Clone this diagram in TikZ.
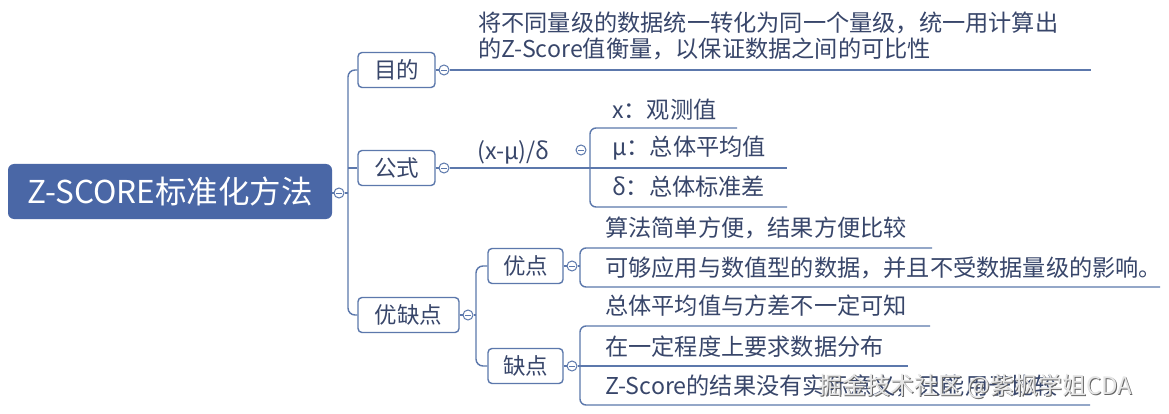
\documentclass[tikz,border=0pt]{standalone}
\usepackage{fontspec}
\setmainfont{Noto Sans CJK SC}
\definecolor{mainblue}{RGB}{74,103,166}
\definecolor{linec}{RGB}{92,120,172}
\definecolor{txt}{RGB}{56,70,106}
\begin{document}
\begin{tikzpicture}[x=1pt,y=-1pt,
  conn/.style={draw=linec, line width=1.4pt},
  topicbox/.style={draw=linec, line width=1.4pt, rounded corners=4pt, fill=white, text=txt,
    font=\fontsize{22.5}{26}\selectfont, inner sep=0pt, minimum height=35pt},
  coll/.style={circle, draw=linec, line width=1pt, fill=white, minimum size=10pt, inner sep=0pt,
    path picture={\draw[linec, line width=0.8pt] ([xshift=-2.6pt]path picture bounding box.center) -- ([xshift=2.6pt]path picture bounding box.center);}},
  item/.style={anchor=west, text=txt, font=\fontsize{23.2}{27}\selectfont, inner sep=0pt},
  wm/.style={anchor=west, font=\fontsize{24}{28}\selectfont, inner sep=0pt}
]
\useasboundingbox (0,0) rectangle (1169,414);
\fill[white] (0,0) rectangle (1169,414);

% main topic
\node[fill=mainblue, rounded corners=6pt, minimum width=324pt, minimum height=55pt, inner sep=0pt,
  text=white, font=\fontsize{31.5}{34}\selectfont] (main) at (170,191.5) {Z-SCORE标准化方法};
\node[coll] (c0) at (339,193) {};
\draw[conn] (main.east |- c0) -- (c0.west);

% level-1 topics
\node[topicbox, minimum width=77pt] (mudi) at (396.5,70) {目的};
\node[topicbox, minimum width=77pt] (gongshi) at (396.5,168) {公式};
\node[topicbox, minimum width=101pt] (ycd) at (408.5,315) {优缺点};

\coordinate (tk) at (348,193);
\draw[conn, rounded corners=7pt] (mudi.west) -- (mudi.west -| tk) -- (ycd.west -| tk) -- (ycd.west);
\draw[conn] (c0.east) -- (tk);
\draw[conn] (gongshi.west -| tk) -- (gongshi.west);

% 目的
\node[coll] (c1) at (444,70) {};
\draw[conn] (mudi.east) -- (c1.west);
\coordinate (e1) at (1091,70);
\draw[conn] (c1.east) -- (e1);
\node[item] (t1a) at (478,22.5) {将不同量级的数据统一转化为同一个量级，统一用计算出};
\node[item] (t1b) at (478,49) {的Z-Score值衡量，以保证数据之间的可比性};

% 公式
\node[coll] (c2) at (444,168) {};
\draw[conn] (gongshi.east) -- (c2.west);
\coordinate (e2) at (787,168);
\draw[conn] (c2.east) -- (e2);
\node[item] (f) at (477,152) {(x-μ)/δ};
\node[coll] (c3) at (581,150) {};
\coordinate (b1) at (737,128);
\coordinate (b2) at (787,207);
\draw[conn, rounded corners=6pt] (b1) -- (590,128) -- (590,207) -- (b2);
\node[item] (fx) at (612,110) {x：观测值};
\node[item] (fmu) at (612,148) {μ：总体平均值};
\node[item] (fdel) at (612,187) {δ：总体标准差};

% 优缺点
\node[coll] (c4) at (468,315) {};
\draw[conn] (ycd.east) -- (c4.west);
\node[topicbox, minimum width=75pt] (yd) at (525.5,266) {优点};
\node[topicbox, minimum width=75pt] (qd) at (525.5,366) {缺点};
\coordinate (tk2) at (476,315);
\draw[conn, rounded corners=7pt] (yd.west) -- (yd.west -| tk2) -- (qd.west -| tk2) -- (qd.west);
\draw[conn] (c4.east) -- (tk2);

% 优点
\node[coll] (c5) at (572,266) {};
\draw[conn] (yd.east) -- (c5.west);
\coordinate (m5) at (580,266);
\draw[conn] (c5.east) -- (m5);
\coordinate (u1) at (932,248);
\coordinate (u2) at (1160,287);
\draw[conn, rounded corners=6pt] (u1) -- (580,248) -- (580,287) -- (u2);
\node[item] (y1) at (605,228) {算法简单方便，结果方便比较};
\node[item] (y2) at (605,268) {可够应用与数值型的数据，并且不受数据量级的影响。};

% 缺点
\node[coll] (c6) at (572,366) {};
\draw[conn] (qd.east) -- (c6.west);
\coordinate (q0) at (908,366);
\draw[conn] (c6.east) -- (q0);
\coordinate (q1) at (930,326);
\coordinate (q2) at (1090,405);
\draw[conn, rounded corners=6pt] (q1) -- (580,326) -- (580,405) -- (q2);
\node[item] (n1) at (605,306) {总体平均值与方差不一定可知};
\node[item] (n2) at (605,347) {在一定程度上要求数据分布};
\node[item] (n3) at (605,386) {Z-Score的结果没有实际意义，只能用于比较};

% watermark
\node[wm, text=black!60] (wms) at (819,387) {掘金技术社区 @紫枫学姐CDA};
\node[wm, text=white!90!black] (wmf) at (818,386) {掘金技术社区 @紫枫学姐CDA};
\end{tikzpicture}
\end{document}
